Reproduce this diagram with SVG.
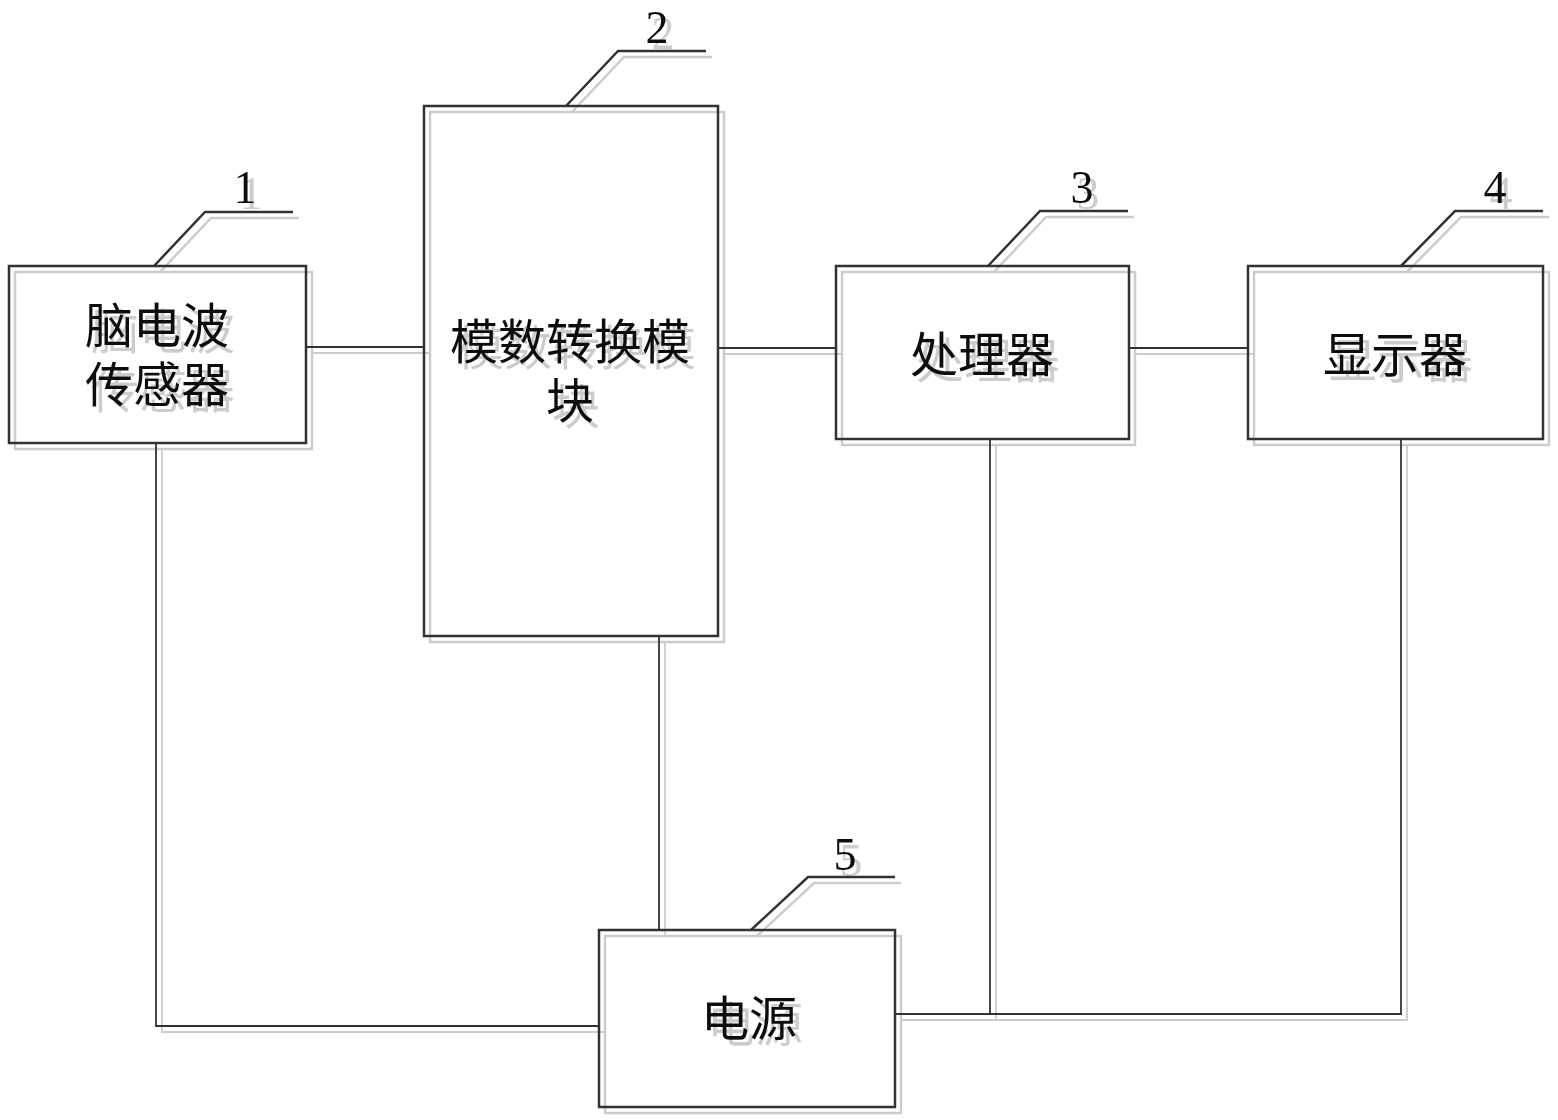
<svg xmlns="http://www.w3.org/2000/svg" width="1558" height="1120" viewBox="0 0 1558 1120">
<defs>
<filter id="sh" filterUnits="userSpaceOnUse" x="0" y="0" width="1558" height="1120">
<feOffset in="SourceAlpha" dx="6" dy="6" result="o"/>
<feComponentTransfer in="o" result="g"><feFuncA type="linear" slope="0.2"/></feComponentTransfer>
<feMerge><feMergeNode in="g"/><feMergeNode in="SourceGraphic"/></feMerge>
</filter>
</defs>
<style>
.box{fill:none;stroke:#333;stroke-width:2.5}
.lead{fill:none;stroke:#333;stroke-width:2.5}
.con{fill:none;stroke:#333;stroke-width:1.8}
.t{font-family:"Noto Sans CJK SC","Noto Sans CJK JP",sans-serif;font-size:48px;fill:#111;text-anchor:middle;dominant-baseline:central}
.n{font-family:"Liberation Serif",serif;font-size:46px;fill:#111;text-anchor:middle}
</style>
<rect width="1558" height="1120" fill="#fff"/>
<g filter="url(#sh)">
<g id="connectors">
<path class="con" d="M306 347H424"/>
<path class="con" d="M718 348H836"/>
<path class="con" d="M1129 348H1248"/>
<path class="con" d="M156 443V1026H599"/>
<path class="con" d="M659 636V930"/>
<path class="con" d="M990 439V1014"/>
<path class="con" d="M895 1014H1401V439"/>
</g>
<g id="node1">
<rect class="box" x="9" y="266" width="297" height="177"/>
<text class="t" x="157" y="322"><tspan x="157" y="322">脑电波</tspan><tspan x="157" y="381">传感器</tspan></text>
<path class="lead" d="M154 266L205 212H293"/>
<text class="n" x="245" y="203">1</text>
</g>
<g id="node2">
<rect class="box" x="424" y="106" width="294" height="530"/>
<text class="t" x="570" y="338"><tspan x="570" y="338">模数转换模</tspan><tspan x="570" y="397">块</tspan></text>
<path class="lead" d="M566 106L618 51H706"/>
<text class="n" x="657" y="43">2</text>
</g>
<g id="node3">
<rect class="box" x="836" y="266" width="293" height="173"/>
<text class="t" x="982" y="351">处理器</text>
<path class="lead" d="M988 266L1040 211H1128"/>
<text class="n" x="1082" y="203">3</text>
</g>
<g id="node4">
<rect class="box" x="1248" y="266" width="295" height="173"/>
<text class="t" x="1395" y="351">显示器</text>
<path class="lead" d="M1401 266L1455 211H1543"/>
<text class="n" x="1495" y="203">4</text>
</g>
<g id="node5">
<rect class="box" x="599" y="930" width="296" height="177"/>
<text class="t" x="749" y="1015">电源</text>
<path class="lead" d="M751 930L808 877H895"/>
<text class="n" x="845" y="870">5</text>
</g>
</g>
</svg>
